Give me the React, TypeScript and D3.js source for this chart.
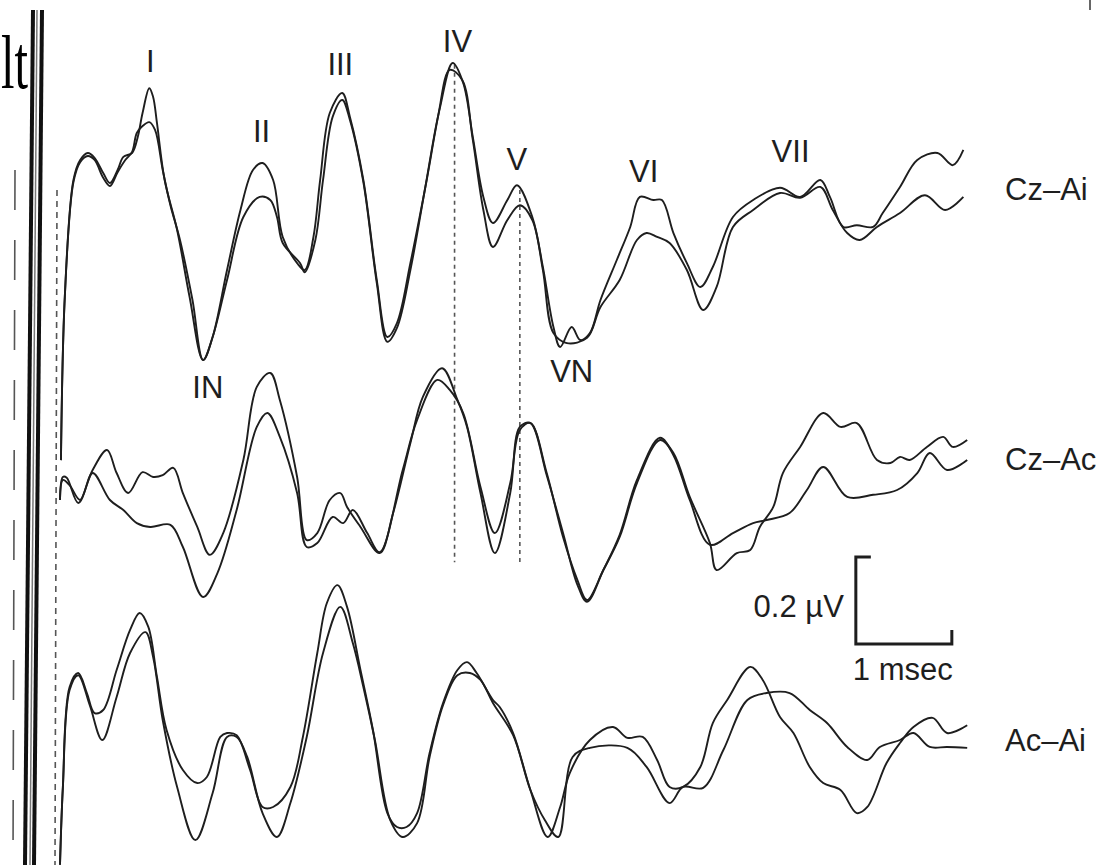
import React from "react";
import * as d3 from "d3";

// Auditory brainstem responses, two superimposed runs per derivation.
// Each point: [latency in ms, amplitude in µV relative to the trace baseline].
type Pt = [number, number];

const czAiRun1: Pt[] = [
  [0.01, -0.529], [0.05, -0.154], [0.14, 0.115], [0.21, 0.161], [0.29, 0.177], [0.36, 0.166],
  [0.45, 0.131], [0.52, 0.108], [0.6, 0.138], [0.66, 0.168], [0.75, 0.177], [0.81, 0.214],
  [0.86, 0.269], [0.93, 0.326], [0.97, 0.306], [1.01, 0.246], [1.09, 0.115], [1.22, 0.0],
  [1.35, -0.154], [1.49, -0.299], [1.59, -0.246], [1.74, -0.092], [1.88, 0.046], [2.01, 0.138],
  [2.11, 0.154], [2.22, 0.115], [2.32, -0.016], [2.47, -0.076], [2.55, -0.092], [2.64, -0.016],
  [2.71, 0.115], [2.81, 0.269], [2.94, 0.315], [3.02, 0.26], [3.16, 0.115], [3.3, -0.115],
  [3.41, -0.246], [3.51, -0.214], [3.65, -0.076], [3.82, 0.115], [3.96, 0.283], [4.09, 0.384],
  [4.2, 0.338], [4.3, 0.214], [4.41, 0.076], [4.51, 0.016], [4.66, 0.069], [4.76, 0.103],
  [4.92, 0.03], [5.03, -0.085], [5.14, -0.223], [5.21, -0.269], [5.33, -0.223], [5.42, -0.253],
  [5.52, -0.237], [5.63, -0.161], [5.8, -0.069], [5.94, 0.007], [6.04, 0.076], [6.18, 0.069],
  [6.27, 0.069], [6.39, -0.007], [6.53, -0.076], [6.67, -0.131], [6.8, -0.085], [7.01, 0.03],
  [7.22, 0.069], [7.5, 0.097], [7.71, 0.076], [7.92, 0.115], [8.02, 0.076], [8.16, 0.007],
  [8.3, 0.011], [8.47, 0.007], [8.57, 0.039], [8.75, 0.099], [8.93, 0.161], [9.14, 0.177],
  [9.3, 0.149], [9.41, 0.184],
];

const czAiRun2: Pt[] = [
  [0.01, -0.529], [0.05, -0.154], [0.14, 0.11], [0.21, 0.156], [0.29, 0.17], [0.36, 0.161],
  [0.45, 0.12], [0.52, 0.101], [0.6, 0.133], [0.68, 0.161], [0.75, 0.179], [0.8, 0.223],
  [0.86, 0.239], [0.93, 0.248], [0.99, 0.23], [1.07, 0.138], [1.15, 0.057], [1.25, -0.023],
  [1.38, -0.161], [1.49, -0.299], [1.59, -0.246], [1.74, -0.115], [1.91, 0.03], [2.08, 0.076],
  [2.19, 0.069], [2.26, 0.03], [2.32, -0.03], [2.5, -0.076], [2.55, -0.097], [2.66, -0.023],
  [2.74, 0.115], [2.84, 0.26], [2.94, 0.299], [3.02, 0.253], [3.16, 0.11], [3.3, -0.122],
  [3.41, -0.257], [3.51, -0.225], [3.65, -0.092], [3.8, 0.092], [3.94, 0.264], [4.06, 0.368],
  [4.19, 0.345], [4.3, 0.207], [4.41, 0.046], [4.51, -0.039], [4.66, 0.023], [4.79, 0.057],
  [4.92, 0.023], [5.03, -0.092], [5.14, -0.237], [5.28, -0.26], [5.49, -0.248], [5.63, -0.177],
  [5.83, -0.115], [6.01, -0.023], [6.11, -0.007], [6.22, -0.016], [6.35, -0.03], [6.53, -0.092],
  [6.7, -0.184], [6.84, -0.131], [7.01, 0.007], [7.22, 0.046], [7.5, 0.085], [7.71, 0.074],
  [7.92, 0.099], [8.05, 0.046], [8.2, -0.007], [8.33, -0.023], [8.51, 0.007], [8.75, 0.039],
  [9.01, 0.08], [9.22, 0.046], [9.41, 0.076],
];

const czAcRun1: Pt[] = [
  [0.0, -0.023], [0.03, 0.03], [0.07, 0.028], [0.19, -0.03], [0.34, 0.046], [0.49, 0.092],
  [0.59, 0.039], [0.71, -0.007], [0.86, 0.041], [0.97, 0.03], [1.07, 0.034], [1.18, 0.051],
  [1.28, -0.007], [1.43, -0.085], [1.56, -0.149], [1.7, -0.099], [1.91, 0.069], [2.05, 0.237],
  [2.19, 0.269], [2.29, 0.207], [2.47, 0.03], [2.57, -0.115], [2.68, -0.099], [2.81, -0.023],
  [2.92, -0.007], [2.99, -0.039], [3.13, -0.085], [3.33, -0.145], [3.47, -0.053], [3.65, 0.108],
  [3.78, 0.214], [3.98, 0.28], [4.14, 0.207], [4.24, 0.145], [4.38, -0.007], [4.53, -0.145],
  [4.69, -0.007], [4.79, 0.145], [4.9, 0.154], [5.07, 0.039], [5.24, -0.108], [5.39, -0.207],
  [5.49, -0.253], [5.66, -0.184], [5.83, -0.108], [6.01, 0.016], [6.25, 0.115], [6.39, 0.085],
  [6.56, -0.016], [6.77, -0.122], [6.84, -0.184], [7.05, -0.145], [7.19, -0.138], [7.29, -0.085],
  [7.43, -0.039], [7.53, 0.039], [7.71, 0.099], [7.95, 0.177], [8.13, 0.145], [8.3, 0.154],
  [8.51, 0.069], [8.65, 0.062], [8.75, 0.076], [8.85, 0.069], [9.03, 0.099], [9.2, 0.122],
  [9.3, 0.099], [9.45, 0.115],
];

const czAcRun2: Pt[] = [
  [0.0, -0.023], [0.03, 0.023], [0.1, 0.011], [0.21, -0.023], [0.34, 0.039], [0.52, -0.023],
  [0.66, -0.046], [0.8, -0.076], [0.94, -0.085], [1.15, -0.08], [1.28, -0.131], [1.49, -0.246],
  [1.64, -0.191], [1.84, -0.046], [2.05, 0.145], [2.16, 0.177], [2.29, 0.122], [2.47, -0.007],
  [2.57, -0.131], [2.68, -0.122], [2.84, -0.062], [2.95, -0.076], [3.05, -0.046], [3.2, -0.099],
  [3.33, -0.143], [3.57, 0.046], [3.72, 0.161], [3.93, 0.253], [4.06, 0.23], [4.2, 0.177],
  [4.38, 0.007], [4.53, -0.099], [4.69, 0.016], [4.79, 0.138], [4.9, 0.154], [5.07, 0.034],
  [5.24, -0.099], [5.39, -0.218], [5.49, -0.257], [5.66, -0.184], [5.83, -0.103], [6.01, 0.023],
  [6.25, 0.12], [6.39, 0.08], [6.56, -0.023], [6.77, -0.126], [7.01, -0.099], [7.22, -0.076],
  [7.36, -0.069], [7.6, -0.053], [7.78, 0.0], [7.95, 0.053], [8.2, -0.016], [8.47, -0.011],
  [8.72, 0.0], [8.93, 0.039], [9.06, 0.085], [9.24, 0.046], [9.45, 0.069],
];

const acAiRun1: Pt[] = [
  [0.0, -0.287], [0.03, -0.108], [0.1, 0.122], [0.19, 0.154], [0.28, 0.108], [0.36, 0.062],
  [0.45, 0.069], [0.59, 0.161], [0.73, 0.253], [0.83, 0.292], [0.92, 0.26], [1.01, 0.145],
  [1.11, 0.023], [1.28, -0.069], [1.43, -0.099], [1.53, -0.085], [1.67, 0.007], [1.74, 0.016],
  [1.84, 0.011], [1.98, -0.069], [2.11, -0.154], [2.22, -0.154], [2.4, -0.108], [2.53, 0.007],
  [2.68, 0.2], [2.78, 0.315], [2.89, 0.356], [2.99, 0.306], [3.13, 0.161], [3.26, 0.023],
  [3.41, -0.168], [3.51, -0.2], [3.61, -0.2], [3.72, -0.168], [3.85, -0.03], [3.99, 0.085],
  [4.14, 0.161], [4.24, 0.179], [4.34, 0.154], [4.51, 0.092], [4.58, 0.076], [4.72, 0.016],
  [4.9, -0.115], [5.08, -0.223], [5.21, -0.154], [5.31, -0.076], [5.52, 0.0], [5.76, 0.03],
  [5.91, 0.005], [6.07, 0.007], [6.22, -0.046], [6.35, -0.108], [6.49, -0.108], [6.67, -0.062],
  [6.8, 0.039], [6.95, 0.092], [7.19, 0.168], [7.32, 0.138], [7.5, 0.053], [7.64, 0.016],
  [7.81, -0.062], [7.95, -0.099], [8.13, -0.115], [8.3, -0.168], [8.41, -0.154], [8.61, -0.053],
  [8.75, -0.007], [8.89, 0.03], [9.09, 0.051], [9.24, 0.016], [9.45, 0.034],
];

const acAiRun2: Pt[] = [
  [0.0, -0.287], [0.03, -0.108], [0.1, 0.115], [0.19, 0.149], [0.31, 0.08], [0.44, 0.0],
  [0.59, 0.099], [0.73, 0.2], [0.89, 0.248], [0.97, 0.191], [1.07, 0.046], [1.22, -0.108],
  [1.41, -0.23], [1.59, -0.122], [1.74, 0.007], [1.84, 0.007], [1.95, -0.039], [2.11, -0.168],
  [2.26, -0.223], [2.4, -0.145], [2.57, 0.007], [2.74, 0.2], [2.92, 0.306], [3.05, 0.223],
  [3.16, 0.122], [3.28, 0.0], [3.44, -0.184], [3.57, -0.223], [3.72, -0.191], [3.85, -0.039],
  [3.99, 0.08], [4.14, 0.149], [4.27, 0.154], [4.38, 0.138], [4.51, 0.085], [4.72, 0.011],
  [4.9, -0.115], [5.05, -0.184], [5.19, -0.223], [5.34, -0.039], [5.52, -0.018], [5.91, -0.018],
  [6.11, -0.062], [6.35, -0.145], [6.49, -0.108], [6.7, -0.11], [6.91, -0.023], [7.16, 0.092],
  [7.36, 0.108], [7.6, 0.108], [7.81, 0.069], [7.99, 0.039], [8.2, -0.016], [8.41, -0.046],
  [8.54, -0.016], [8.75, 0.0], [8.89, 0.016], [9.06, -0.016], [9.24, -0.016], [9.45, -0.018],
];

const derivations = ["Cz–Ai", "Cz–Ac", "Ac–Ai"];

// Wave names with [latency ms, µV] anchor for the label baseline on the Cz–Ai trace
const waveNames = ["I", "II", "III", "IV", "V", "VI", "VII", "IN", "VN"];
const waveAnchors: Pt[] = [
  [0.94, 0.363], [2.1, 0.202], [2.92, 0.356], [4.14, 0.409], [4.76, 0.138],
  [6.08, 0.11], [7.61, 0.156], [1.54, -0.386], [5.33, -0.349],
];

// Latency markers for waves IV and V: [latency ms, top µV on Cz–Ai]
const latencyMarkers: Pt[] = [[4.11, 0.38], [4.79, 0.092]];
const markerBottomCzAc = -0.166;

// Calibration
const calTimeMs = 1;
const calAmpUv = 0.2;

const W = 1105;
const H = 865;
const PX_PER_UV = 435;

export default function App() {
  const x = d3.scaleLinear().domain([0, 10]).range([60, 1020]);
  const baselines = [230, 490, 740];
  const yScales = baselines.map((b) =>
    d3.scaleLinear().domain([-1, 1]).range([b + PX_PER_UV, b - PX_PER_UV])
  );
  const runs = [
    [czAiRun1, czAiRun2],
    [czAcRun1, czAcRun2],
    [acAiRun1, acAiRun2],
  ];
  const makeLine = (y: d3.ScaleLinear<number, number>) =>
    d3
      .line<Pt>()
      .x((d) => x(d[0]))
      .y((d) => y(d[1]))
      .curve(d3.curveCatmullRom.alpha(0.5));

  const font = "'Liberation Sans', Arial, Helvetica, sans-serif";
  const ink = "#1e1e1e";

  // calibration bar anchored on the Cz–Ac scale
  const calT0 = 8.29;
  const calV0 = -0.354;
  const cx0 = x(calT0);
  const cx1 = x(calT0 + calTimeMs);
  const cyBottom = yScales[1](calV0);
  const cyTop = yScales[1](calV0 + calAmpUv);

  return (
    <div style={{ position: "absolute", left: 0, top: 0 }}>
      <svg width={W} height={H} viewBox={`0 0 ${W} ${H}`} style={{ display: "block", background: "#fff" }}>
        <rect width={W} height={H} fill="#fff" />

        {/* page edge of the scanned sheet */}
        <g>
          <line x1={33} y1={10} x2={25} y2={H} stroke="#111" strokeWidth={4} />
          <line x1={42} y1={10} x2={34} y2={H} stroke="#111" strokeWidth={4} />
          <line x1={37} y1={10} x2={30} y2={H} stroke="#777" strokeWidth={1.5} />
          <line x1={15} y1={170} x2={13} y2={H} stroke="#555" strokeWidth={1.6} strokeDasharray="40 30" />
          <line x1={57} y1={190} x2={55} y2={H} stroke="#555" strokeWidth={1.6} strokeDasharray="6 5" />
          <line x1={1090} y1={0} x2={1090} y2={10} stroke="#333" strokeWidth={1.5} />
          <text
            x={1}
            y={88}
            fontFamily="'Liberation Serif', 'Times New Roman', serif"
            fontSize={76}
            textLength={27}
            lengthAdjust="spacingAndGlyphs"
            fill="#000"
          >
            lt
          </text>
        </g>

        {/* latency markers */}
        {latencyMarkers.map(([t, v], i) => (
          <line
            key={`m${i}`}
            x1={x(t)}
            x2={x(t)}
            y1={yScales[0](v)}
            y2={yScales[1](markerBottomCzAc)}
            stroke="#555"
            strokeWidth={1.6}
            strokeDasharray="4 4"
          />
        ))}

        {/* waveforms */}
        {runs.map((pair, ti) =>
          pair.map((data, ri) => (
            <path
              key={`w${ti}-${ri}`}
              d={makeLine(yScales[ti])(data) || ""}
              fill="none"
              stroke={ink}
              strokeWidth={1.9}
              strokeLinejoin="round"
            />
          ))
        )}

        {/* wave labels */}
        {waveNames.map((name, i) => (
          <text
            key={name}
            x={x(waveAnchors[i][0])}
            y={yScales[0](waveAnchors[i][1])}
            textAnchor="middle"
            fontFamily={font}
            fontSize={31}
            fill={ink}
          >
            {name}
          </text>
        ))}

        {/* derivation labels */}
        {derivations.map((name, i) => (
          <text key={name} x={1005} y={baselines[i] + [-30, -20, 11][i]} fontFamily={font} fontSize={31} fill={ink}>
            {name}
          </text>
        ))}

        {/* calibration */}
        <path
          d={`M${cx0 + 15},${cyTop} H${cx0} V${cyBottom} H${cx1} V${cyBottom - 14}`}
          fill="none"
          stroke={ink}
          strokeWidth={3}
        />
        <text x={cx0 - 12} y={(cyTop + cyBottom) / 2 + 17} textAnchor="end" fontFamily={font} fontSize={31} fill={ink}>
          {calAmpUv} µV
        </text>
        <text x={cx0 - 3} y={cyBottom + 36} fontFamily={font} fontSize={31} fill={ink}>
          {calTimeMs} msec
        </text>
      </svg>
    </div>
  );
}
